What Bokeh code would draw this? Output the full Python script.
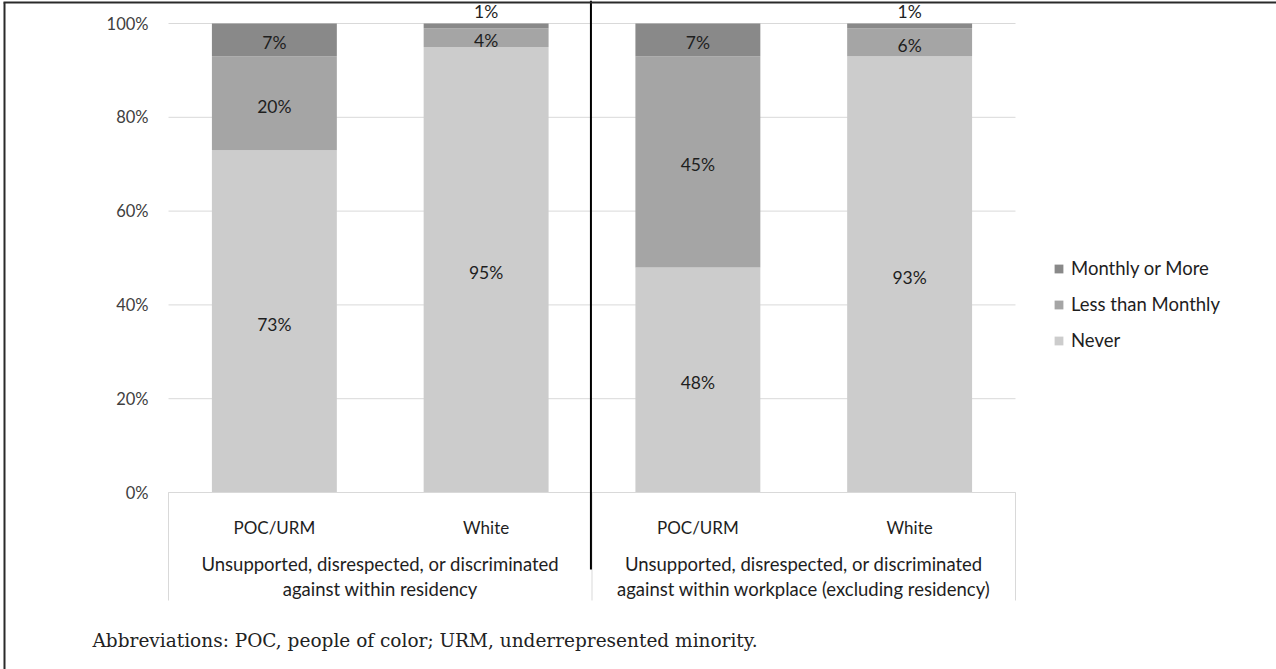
from bokeh.plotting import figure
from bokeh.models import ColumnDataSource, Range1d, Legend, LegendItem
from bokeh.core.properties import value
from bokeh.embed import file_html
from bokeh.resources import INLINE

# ---------------- data ----------------
groups = ["Unsupported, disrespected, or discriminated\nagainst within residency",
          "Unsupported, disrespected, or discriminated\nagainst within workplace (excluding residency)"]
subgroups = ["POC/URM", "White", "POC/URM", "White"]
series = ["Never", "Less than Monthly", "Monthly or More"]
never = [73, 95, 48, 93]
less_than_monthly = [20, 4, 45, 6]
monthly_or_more = [7, 1, 7, 1]
y_ticks = [0, 20, 40, 60, 80, 100]
footnote = "Abbreviations: POC, people of color; URM, underrepresented minority."

colors = ["#cccccc", "#a5a5a5", "#898989"]

# ---------------- layout (pixels) ----------------
W, H = 1276, 669
X0_PX, PX_PER_X = 168, 211.75
Y0_PX, PX_PER_Y = 492, 4.69

def dx(px):
    return (px - X0_PX) / PX_PER_X

def dy(py):
    return (Y0_PX - py) / PX_PER_Y

FONT = value("Lato")
TXT = "#1e1e1e"

p = figure(width=W, height=H, output_backend="svg", toolbar_location=None,
           x_range=Range1d(dx(0), dx(W)), y_range=Range1d(dy(H), dy(0)),
           x_axis_location=None, y_axis_location=None, min_border=0)
p.grid.visible = False
p.outline_line_color = None
p.background_fill_color = "white"
p.border_fill_color = "white"

n = len(subgroups)
xs = [i + 0.5 for i in range(n)]

# gridlines + y tick labels
p.segment(x0=[0] * len(y_ticks), x1=[n] * len(y_ticks), y0=y_ticks, y1=y_ticks,
          line_color="#d9d9d9", line_width=1)
p.text(x=[dx(148)] * len(y_ticks), y=y_ticks, text=[f"{t}%" for t in y_ticks],
       text_align="right", text_baseline="middle", text_font=FONT,
       text_font_size="16.5px", text_color="#404040")

# stacked bars
src = ColumnDataSource(dict(x=xs, never=never, less=less_than_monthly, monthly=monthly_or_more))
rs = p.vbar_stack(["never", "less", "monthly"], x="x", width=0.59, color=colors,
                  line_color=None, source=src)

# data labels
lx, ly, lt = [], [], []
for i in range(n):
    bottom = 0
    for v in (never[i], less_than_monthly[i], monthly_or_more[i]):
        lx.append(xs[i])
        if v < 3:
            ly.append(bottom + v + 2.5)
        else:
            ly.append(bottom + v / 2 - 0.6)
        lt.append(f"{v}%")
        bottom += v
p.text(x=lx, y=ly, text=lt, text_align="center", text_baseline="middle",
       text_font=FONT, text_font_size="17.5px", text_color=TXT)

# category axis box
box_bottom = dy(600)
p.segment(x0=[0], x1=[n], y0=[0], y1=[0], line_color="#d9d9d9", line_width=1)
p.segment(x0=[0, n / 2, n], x1=[0, n / 2, n], y0=[0] * 3, y1=[box_bottom] * 3,
          line_color="#d9d9d9", line_width=1)
p.text(x=xs, y=[dy(527)] * n, text=subgroups, text_align="center", text_baseline="middle",
       text_font=FONT, text_font_size="17px", text_color=TXT)
gx = [1.0, 3.0]
p.text(x=gx, y=[dy(576)] * 2, text=groups, text_align="center", text_baseline="middle",
       text_font=FONT, text_font_size="18.5px", text_color=TXT, text_line_height=1.1)

# black divider between panels
p.segment(x0=[n / 2 - 0.005], x1=[n / 2 - 0.005], y0=[dy(0)], y1=[dy(569)],
          line_color="black", line_width=2)

# outer frame (top + left)
p.segment(x0=[dx(3), dx(4)], x1=[dx(W), dx(4)], y0=[dy(2), dy(2)], y1=[dy(2), dy(H)],
          line_color="#2a2a2a", line_width=2)

# footnote
p.text(x=[dx(92)], y=[dy(640)], text=[footnote], text_align="left", text_baseline="middle",
       text_font=value("DejaVu Serif"), text_font_size="18.5px", text_color="#222222")

# legend
items = [LegendItem(label=series[k], renderers=[rs[k]]) for k in (2, 1, 0)]
leg = Legend(items=items, location=(1053, 318), orientation="vertical",
             label_text_font="Lato", label_text_font_size="18.5px", label_text_color=TXT,
             glyph_width=11, glyph_height=11, label_height=22, spacing=14,
             padding=0, margin=0, border_line_color=None, background_fill_alpha=0,
             label_standoff=7)
p.add_layout(leg)

open("out.html", "w").write(file_html(p, INLINE))
